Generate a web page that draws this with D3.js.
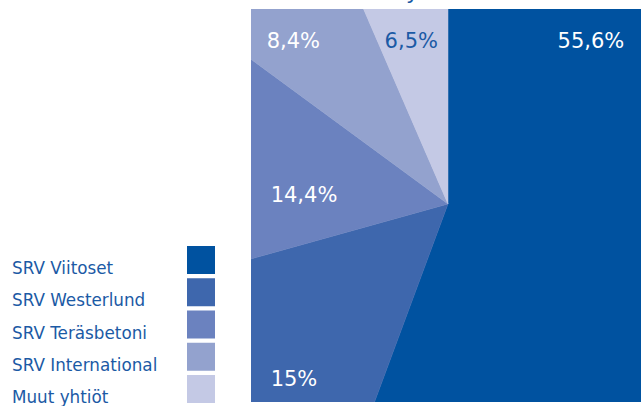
<!DOCTYPE html>
<html>
<head>
<meta charset="utf-8">
<script src="https://cdn.jsdelivr.net/npm/d3@7"></script>
<style>
  body { margin: 0; background: #fff; }
  svg { display: block; font-family: "DejaVu Sans", Verdana, sans-serif; }
</style>
</head>
<body>
<div id="chart"></div>
<script>
'use strict'

// companies and their share (%)
const companies = ['SRV Viitoset', 'SRV Westerlund', 'SRV Teräsbetoni', 'SRV International', 'Muut yhtiöt'];
const shares = [55.6, 15, 14.4, 8.4, 6.5];
const shareLabels = ['55,6%', '15%', '14,4%', '8,4%', '6,5%'];
const colors = ['#0052a0', '#3e67ad', '#6b82bf', '#93a2ce', '#c4c9e5'];

let width = 641, height = 406;

let svg = d3.select('#chart')
	.append('svg')
	.attr('width', width)
	.attr('height', height);

// the pie is larger than its square frame and gets cut off by it
let box = {x: 251, y: 9, size: 393},
    cx = 448, cy = 204;

svg.append('defs').append('clipPath')
    .attr('id', 'clip')
  .append('rect')
    .attr('x', box.x)
    .attr('y', box.y)
    .attr('width', box.size)
    .attr('height', box.size);

let data = shares.map(function(v, i) {
	return {name: companies[i], value: v, label: shareLabels[i], color: colors[i]};
});

let pie = d3.pie()
    .sort(null)
    .value(function(d) { return d.value; });

let arc = d3.arc()
    .innerRadius(0)
    .outerRadius(420);

let slices = svg.append('g')
    .attr('clip-path', 'url(#clip)')
  .append('g')
    .attr('transform', 'translate(' + cx + ',' + cy + ')');

slices.selectAll('path')
  .data(pie(data))
  .enter().append('path')
    .attr('d', arc)
    .attr('fill', function(d) { return d.data.color; })
    .attr('stroke', function(d) { return d.data.color; })
    .attr('stroke-width', 0.5);

// label spots inside the frame, as fractions of the frame (placed by hand in the original)
let labelSpots = [[0.78, 0.1], [0.05, 0.96], [0.05, 0.49], [0.04, 0.1], [0.34, 0.1]];

svg.append('g').selectAll('text')
  .data(data)
  .enter().append('text')
    .attr('x', function(d, i) { return box.x + labelSpots[i][0] * box.size; })
    .attr('y', function(d, i) { return box.y + labelSpots[i][1] * box.size; })
    .attr('font-size', 21)
    .attr('fill', function(d, i) { return i === data.length - 1 ? '#1b5aa5' : '#fff'; })
    .text(function(d) { return d.label; });

// cut-off title above the frame, only the tail of its "y" shows
svg.append('text')
    .attr('x', 406)
    .attr('y', -1)
    .attr('font-size', 22)
    .attr('fill', '#1b5aa5')
    .text('y');

// legend
let legendY = d3.scalePoint()
    .domain(companies)
    .range([246, 375]);

let legend = svg.append('g').selectAll('g')
  .data(data)
  .enter().append('g')
    .attr('transform', function(d) { return 'translate(0,' + legendY(d.name) + ')'; });

legend.append('text')
    .attr('x', 12)
    .attr('y', 28)
    .attr('font-size', 16.8)
    .attr('fill', '#1b5aa5')
    .text(function(d) { return d.name; });

legend.append('rect')
    .attr('x', 187)
    .attr('y', 0)
    .attr('width', 28)
    .attr('height', 28)
    .attr('fill', function(d) { return d.color; });
</script>
</body>
</html>
